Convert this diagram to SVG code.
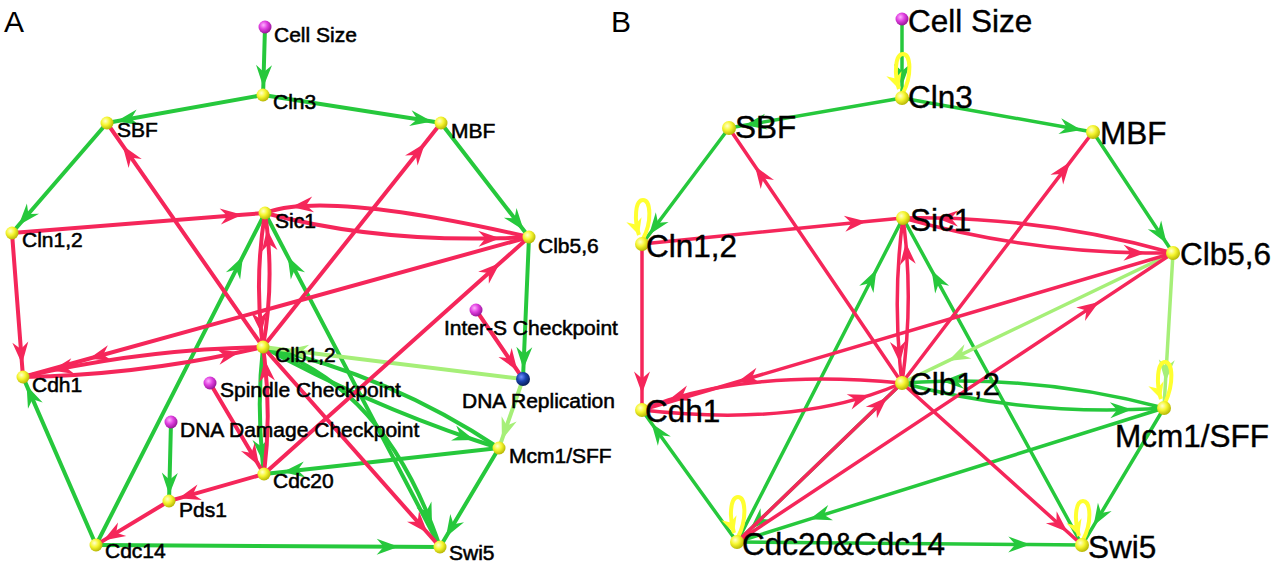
<svg xmlns="http://www.w3.org/2000/svg" width="1280" height="566" viewBox="0 0 1280 566">
<style>
.e{fill:none;stroke-linecap:round;stroke-linejoin:round}
.a{stroke-width:4}
.b{stroke-width:3.5}
.g{stroke:#26c83c;marker-mid:url(#mg)}
.r{stroke:#f5265a;marker-mid:url(#mr)}
.l{stroke:#a6ef78;marker-mid:url(#ml)}
.y{stroke:#ffff30;stroke-width:4;fill:none;marker-end:url(#my)}
text{font-family:"Liberation Sans",Arial,sans-serif;fill:#000}
.ta{font-size:21px;stroke:#000;stroke-width:0.55}
.tb{font-size:31.5px;stroke:#000;stroke-width:0.4}
.tp{font-size:30px}
</style>
<defs>
<marker id="mg" viewBox="-24 -10 26 20" refX="0" refY="0" markerWidth="26" markerHeight="20" markerUnits="userSpaceOnUse" orient="auto"><path d="M0,0 L-22,-8 L-15,0 L-22,8 Z" fill="#26c83c"/></marker>
<marker id="mr" viewBox="-24 -10 26 20" refX="0" refY="0" markerWidth="26" markerHeight="20" markerUnits="userSpaceOnUse" orient="auto"><path d="M0,0 L-22,-8 L-15,0 L-22,8 Z" fill="#f5265a"/></marker>
<marker id="ml" viewBox="-24 -10 26 20" refX="0" refY="0" markerWidth="26" markerHeight="20" markerUnits="userSpaceOnUse" orient="auto"><path d="M0,0 L-22,-8 L-15,0 L-22,8 Z" fill="#a6ef78"/></marker>
<marker id="my" viewBox="-18 -9 20 18" refX="0" refY="0" markerWidth="20" markerHeight="18" markerUnits="userSpaceOnUse" orient="auto"><path d="M0,0 L-16,-8 L-11,0 L-16,8 Z" fill="#ffff30"/></marker>
<radialGradient id="sy" cx="0.38" cy="0.35" r="0.7"><stop offset="0" stop-color="#ffffd0"/><stop offset="0.45" stop-color="#f6f630"/><stop offset="1" stop-color="#b0b000"/></radialGradient>
<radialGradient id="sm" cx="0.38" cy="0.35" r="0.7"><stop offset="0" stop-color="#ffb0ff"/><stop offset="0.45" stop-color="#e040e0"/><stop offset="1" stop-color="#901090"/></radialGradient>
<radialGradient id="sb" cx="0.38" cy="0.35" r="0.7"><stop offset="0" stop-color="#7090ff"/><stop offset="0.45" stop-color="#1a44b0"/><stop offset="1" stop-color="#061a50"/></radialGradient>
</defs>
<rect width="1280" height="566" fill="#fff"/>
<text class="tp" x="4" y="32">A</text>
<text class="tp" x="611" y="32">B</text>

<g id="connectors-A">
<path class="e a g" d="M265,27 L263.3,87 L263,95"/>
<path class="e a g" d="M263,95 L116.4,121.3 L107,123"/>
<path class="e a g" d="M263,95 L432.1,121.6 L441,123"/>
<path class="e a g" d="M107,123 L18.6,225.3 L12,233"/>
<path class="e a g" d="M441,123 L523.7,230.2 L529,237"/>
<path class="e a g" d="M529,237 L523.4,369 L523,379"/>
<path class="e a g" d="M96,545 L26.6,385.4 L23,377"/>
<path class="e a g" d="M96,545 L243,256.2 L265,213"/>
<path class="e a g" d="M440,547 L287.7,256.4 L265,213"/>
<path class="e a g" d="M96,545 L398.7,546.8 L440,547"/>
<path class="e a g" d="M499,448 L445.9,537.1 L440,547"/>
<path class="e a g" d="M499,448 L282.8,471.9 L264,474"/>
<path class="e a g" d="M171,422 L169.2,494.7 L169,501"/>
<path class="e a g" d="M263,347 Q364.7,402.8 474.5,440 Q486.7,444.1 499,448"/>
<path class="e a g" d="M499,448 Q390,375.4 263,347"/>
<path class="e a g" d="M263,347 Q376.5,382.3 432,525 Q436.2,535.7 440,547"/>
<path class="e a g" d="M263,347 Q256.7,403.7 262.6,461.2 Q263.2,467.6 264,474"/>
<path class="e a l" d="M523,379 L286.4,349.9 L263,347"/>
<path class="e a l" d="M523,379 L501.9,439.7 L499,448"/>
<path class="e a r" d="M12,233 L242.2,214.8 L265,213"/>
<path class="e a r" d="M12,233 L22,364 L23,377"/>
<path class="e a r" d="M263,347 L122.6,145.4 L107,123"/>
<path class="e a r" d="M263,347 L425,143.2 L441,123"/>
<path class="e a r" d="M529,237 Q361.7,198.5 291.3,207 Q275.8,208.9 265,213"/>
<path class="e a r" d="M265,213 Q373,241.8 500.4,238.2 Q514.6,237.8 529,237"/>
<path class="e a r" d="M265,213 Q255.1,273.3 261.4,333.6 Q262.1,340.3 263,347"/>
<path class="e a r" d="M263,347 Q273.6,288 267.1,229 Q266.2,221 265,213"/>
<path class="e a r" d="M529,237 L88.8,358.8 L23,377"/>
<path class="e a r" d="M263,347 Q155.6,348.8 51.4,370.6 Q37.2,373.6 23,377"/>
<path class="e a r" d="M23,377 Q132.8,375.2 239.4,352.3 Q251.2,349.8 263,347"/>
<path class="e a r" d="M264,474 L499.9,263.1 L529,237"/>
<path class="e a r" d="M264,474 Q271.2,416.4 264.6,359.6 Q263.9,353.3 263,347"/>
<path class="e a r" d="M210,383 L259.1,465.8 L264,474"/>
<path class="e a r" d="M264,474 L178.5,498.3 L169,501"/>
<path class="e a r" d="M169,501 L103.3,540.6 L96,545"/>
<path class="e a r" d="M263,347 L427.6,533 L440,547"/>
<path class="e a r" d="M476,310 L517.4,370.7 L523,379"/>
</g>

<g id="connectors-B">
<path class="e b g" d="M902,19 L902,86 L902,98"/>
<path class="e b g" d="M902,98 L744.6,125.3 L729,128"/>
<path class="e b g" d="M902,98 L1081.5,130 L1093,132"/>
<path class="e b g" d="M729,128 L649,234.7 L642,244"/>
<path class="e b g" d="M1093,132 L1166.6,243.3 L1173,253"/>
<path class="e b g" d="M1164,408 L1093.5,525.8 L1082,545"/>
<path class="e b g" d="M1164,408 L809.6,519.2 L737,542"/>
<path class="e b g" d="M737,542 L1030.3,544.6 L1082,545"/>
<path class="e b g" d="M737,542 L651.5,423.2 L642,410"/>
<path class="e b g" d="M737,542 L876.4,269.8 L903,218"/>
<path class="e b g" d="M1082,545 L931.6,270.3 L903,218"/>
<path class="e b g" d="M902,383 L750.2,529.3 L737,542"/>
<path class="e b g" d="M902,383 Q1015.4,413.3 1132.1,409.6 Q1148,409.1 1164,408"/>
<path class="e b g" d="M1164,408 Q1054.4,378.8 941.9,381.2 Q922,381.6 902,383"/>
<path class="e b l" d="M1173,253 L1165.5,381.7 L1164,408"/>
<path class="e b l" d="M1173,253 L948.1,360.9 L902,383"/>
<path class="e b r" d="M642,244 L866.5,221.6 L903,218"/>
<path class="e b r" d="M642,244 L642,393.4 L642,410"/>
<path class="e b r" d="M902,383 L755,166.2 L729,128"/>
<path class="e b r" d="M902,383 L1070.1,162.1 L1093,132"/>
<path class="e b r" d="M1173,253 Q1056.5,220.2 936,218 Q919.5,217.7 903,218"/>
<path class="e b r" d="M903,218 Q1022.2,251.6 1145.5,253 Q1159.2,253.2 1173,253"/>
<path class="e b r" d="M903,218 Q893.3,290.2 899.9,363.1 Q900.8,373 902,383"/>
<path class="e b r" d="M902,383 Q912.2,312.45 905.8,242.6 Q904.65,230.3 903,218"/>
<path class="e b r" d="M1173,253 L737.6,381.7 L642,410"/>
<path class="e b r" d="M902,383 Q761.1,370 668.5,400 Q654.7,404.5 642,410"/>
<path class="e b r" d="M642,410 Q776.3,425.3 870.1,395.1 Q886.7,389.75 902,383"/>
<path class="e b r" d="M737,542 L887.2,397.3 L902,383"/>
<path class="e b r" d="M737,542 L1098.9,302.1 L1173,253"/>
<path class="e b r" d="M902,383 L1067.6,532 L1082,545"/>
<path class="y" d="M903,93 C912,76 911,54 903,54 C895,54 894,74 899,89"/>
<path class="y" d="M643,239 C652,222 651,200 643,200 C635,200 634,220 639,235"/>
<path class="y" d="M1165,403 C1174,384 1173,362 1165,362 C1157,362 1156,384 1161,399"/>
<path class="y" d="M1083,540 C1092,523 1091,501 1083,501 C1075,501 1074,521 1079,536"/>
<path class="y" d="M738,537 C747,520 746,497 738,497 C730,497 729,518 734,533"/>
</g>

<g id="A-CellSize"><circle cx="265" cy="27" r="6.5" fill="url(#sm)"/><text class="ta" x="274" y="42">Cell Size</text></g>
<g id="A-Cln3"><circle cx="263" cy="95" r="6.5" fill="url(#sy)"/><text class="ta" x="273" y="109">Cln3</text></g>
<g id="A-SBF"><circle cx="107" cy="123" r="6.5" fill="url(#sy)"/><text class="ta" x="117" y="137">SBF</text></g>
<g id="A-MBF"><circle cx="441" cy="123" r="6.5" fill="url(#sy)"/><text class="ta" x="451" y="138">MBF</text></g>
<g id="A-Cln12"><circle cx="12" cy="233" r="6.5" fill="url(#sy)"/><text class="ta" x="22" y="247">Cln1,2</text></g>
<g id="A-Sic1"><circle cx="265" cy="213" r="6.5" fill="url(#sy)"/><text class="ta" x="275" y="228">Sic1</text></g>
<g id="A-Clb56"><circle cx="529" cy="237" r="6.5" fill="url(#sy)"/><text class="ta" x="538" y="253">Clb5,6</text></g>
<g id="A-InterS"><circle cx="476" cy="310" r="6.5" fill="url(#sm)"/><text class="ta" x="444" y="335">Inter-S Checkpoint</text></g>
<g id="A-DNARep"><circle cx="523" cy="379" r="7" fill="url(#sb)"/><text class="ta" x="462" y="408">DNA Replication</text></g>
<g id="A-Clb12"><circle cx="263" cy="347" r="6.5" fill="url(#sy)"/><text class="ta" x="275" y="362">Clb1,2</text></g>
<g id="A-Cdh1"><circle cx="23" cy="377" r="6.5" fill="url(#sy)"/><text class="ta" x="32" y="392">Cdh1</text></g>
<g id="A-Spindle"><circle cx="210" cy="383" r="6.5" fill="url(#sm)"/><text class="ta" x="220" y="397">Spindle Checkpoint</text></g>
<g id="A-DNADamage"><circle cx="171" cy="422" r="6.5" fill="url(#sm)"/><text class="ta" x="180" y="437">DNA Damage Checkpoint</text></g>
<g id="A-Mcm1"><circle cx="499" cy="448" r="6.5" fill="url(#sy)"/><text class="ta" x="509" y="463">Mcm1/SFF</text></g>
<g id="A-Cdc20"><circle cx="264" cy="474" r="6.5" fill="url(#sy)"/><text class="ta" x="273" y="488">Cdc20</text></g>
<g id="A-Pds1"><circle cx="169" cy="501" r="6.5" fill="url(#sy)"/><text class="ta" x="179" y="517">Pds1</text></g>
<g id="A-Cdc14"><circle cx="96" cy="545" r="6.5" fill="url(#sy)"/><text class="ta" x="105" y="558">Cdc14</text></g>
<g id="A-Swi5"><circle cx="440" cy="547" r="6.5" fill="url(#sy)"/><text class="ta" x="449" y="560">Swi5</text></g>

<g id="B-CellSize"><circle cx="902" cy="19" r="6.5" fill="url(#sm)"/><text class="tb" x="908" y="32">Cell Size</text></g>
<g id="B-Cln3"><circle cx="902" cy="98" r="7" fill="url(#sy)"/><text class="tb" x="908" y="108">Cln3</text></g>
<g id="B-SBF"><circle cx="729" cy="128" r="7" fill="url(#sy)"/><text class="tb" x="735" y="138">SBF</text></g>
<g id="B-MBF"><circle cx="1093" cy="132" r="7" fill="url(#sy)"/><text class="tb" x="1100" y="144">MBF</text></g>
<g id="B-Cln12"><circle cx="642" cy="244" r="7" fill="url(#sy)"/><text class="tb" x="646" y="257">Cln1,2</text></g>
<g id="B-Sic1"><circle cx="903" cy="218" r="7" fill="url(#sy)"/><text class="tb" x="910" y="231">Sic1</text></g>
<g id="B-Clb56"><circle cx="1173" cy="253" r="7" fill="url(#sy)"/><text class="tb" x="1180" y="265">Clb5,6</text></g>
<g id="B-Clb12"><circle cx="902" cy="383" r="7" fill="url(#sy)"/><text class="tb" x="909" y="395">Clb1,2</text></g>
<g id="B-Cdh1"><circle cx="642" cy="410" r="7" fill="url(#sy)"/><text class="tb" x="645" y="422">Cdh1</text></g>
<g id="B-Mcm1"><circle cx="1164" cy="408" r="7" fill="url(#sy)"/><text class="tb" x="1115" y="447">Mcm1/SFF</text></g>
<g id="B-Cdc20Cdc14"><circle cx="737" cy="542" r="7" fill="url(#sy)"/><text class="tb" x="742" y="555">Cdc20&amp;Cdc14</text></g>
<g id="B-Swi5"><circle cx="1082" cy="545" r="7" fill="url(#sy)"/><text class="tb" x="1088" y="558">Swi5</text></g>
</svg>
